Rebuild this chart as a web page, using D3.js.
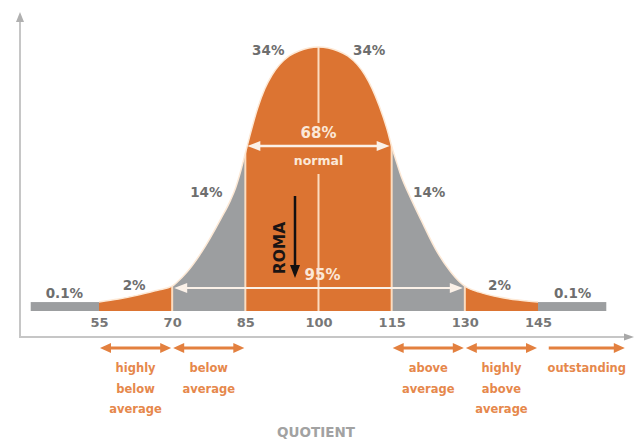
<!DOCTYPE html>
<html><head><meta charset="utf-8">
<script src="https://cdn.jsdelivr.net/npm/d3@7/dist/d3.min.js"></script>
<style>body{margin:0;background:#fff}svg{display:block}</style>
</head><body><svg id="c" width="634" height="442"></svg>
<script>
// ---------- data ----------
const curveIQ = [55,59,63,67,70,71,73,76,80,82,83,84,85,86,87.5,89,90.5,92,94,96,98,100,
                 102,104,106,108,109.5,111,112.5,114,115,116,117,118.5,121,124.5,127,129,130,133,137,141,145];
const curveDensity = [0.09,0.12,0.16,0.21,0.25,0.29,0.39,0.59,0.93,1.12,1.24,1.40,1.59,1.78,2.04,2.24,2.38,2.48,2.57,2.62,2.65,2.66,
                      2.65,2.62,2.57,2.48,2.38,2.24,2.06,1.84,1.66,1.50,1.35,1.18,0.92,0.58,0.40,0.29,0.25,0.19,0.14,0.11,0.09];
const bandEdges = [55,70,85,115,130,145];
const tailRanges = [[41,55],[145,159]];
const tailDensity = 0.09;
const tickValues = [55,70,85,100,115,130,145];
const bandPct = ["0.1%","2%","14%","34%","34%","14%","2%","0.1%"];
const innerPct = ["68%","95%"];
const innerLabel = "normal";
const markerLabel = "ROMA";
const axisTitle = "QUOTIENT";
const categoryNames = [["highly","below","average"],["below","average"],["above","average"],["highly","above","average"],["outstanding"]];
const categoryRanges = [[55,70],[70,85],[115,130],[130,145],[147,163]];

// ---------- layout (data coordinates for annotations) ----------
const pctAnchorIQ = [47.9,62.2,77,89.7,110.4,122.7,137.1,152.1];
const pctAnchorDensity = [0.13,0.21,1.15,2.58,2.58,1.15,0.21,0.13];

const ORANGE = "#dc7432", GRAY = "#9c9ea0", CREAM = "#fbdcc0", WHITE = "#fbf1e8";
const CAT = "#e3803f", CATTXT = "#e6884c";

const svg = d3.select("#c");
const x = d3.scaleLinear().domain([55,145]).range([99,538]);
const y = d3.scaleLinear().domain([0,2.66]).range([311,47]);
const pts = curveIQ.map((v,i)=>[v,curveDensity[i]]);

function head(g, tx, ty, ang, len, hw, col){
  const c=Math.cos(ang), s=Math.sin(ang);
  const bx=tx-c*len, by=ty-s*len;
  g.append("path").attr("d",`M${tx},${ty}L${bx-s*hw},${by+c*hw}L${bx+s*hw},${by-c*hw}Z`).attr("fill",col);
}
function arrow(g, x1,y1,x2,y2, o){
  const ang=Math.atan2(y2-y1,x2-x1), len=o.len, c=Math.cos(ang), s=Math.sin(ang);
  const sx = o.start? x1+c*len*0.8 : x1, sy = o.start? y1+s*len*0.8 : y1;
  const ex = o.end? x2-c*len*0.8 : x2, ey = o.end? y2-s*len*0.8 : y2;
  g.append("line").attr("x1",sx).attr("y1",sy).attr("x2",ex).attr("y2",ey)
    .attr("stroke",o.col).attr("stroke-width",o.w);
  if(o.end) head(g,x2,y2,ang,len,o.hw,o.col);
  if(o.start) head(g,x1,y1,ang+Math.PI,len,o.hw,o.col);
}

// axes frame
const ax = svg.append("g");
ax.append("line").attr("x1",20).attr("y1",337).attr("x2",20).attr("y2",20).attr("stroke","#c6c6c6").attr("stroke-width",2);
head(ax,20,12,-Math.PI/2,10,4,"#b0b0b0");
ax.append("line").attr("x1",19).attr("y1",337).attr("x2",626).attr("y2",337).attr("stroke","#c6c6c6").attr("stroke-width",2);
head(ax,634,337,0,10,3.5,"#a8a8a8");

// flat tails
svg.append("g").selectAll("rect").data(tailRanges).join("rect")
  .attr("x",d=>x(d[0])).attr("width",d=>x(d[1])-x(d[0]))
  .attr("y",y(tailDensity)).attr("height",y(0)-y(tailDensity)).attr("fill",GRAY);

// bell area with bands
const area = d3.area().x(d=>x(d[0])).y0(y(0)).y1(d=>y(d[1])).curve(d3.curveMonotoneX);
const line = d3.line().x(d=>x(d[0])).y(d=>y(d[1])).curve(d3.curveMonotoneX);
svg.append("clipPath").attr("id","bell").append("path").attr("d",area(pts));
const bell = svg.append("g").attr("clip-path","url(#bell)");
bell.selectAll("rect").data(d3.pairs(bandEdges)).join("rect")
  .attr("x",d=>x(d[0])).attr("width",d=>x(d[1])-x(d[0]))
  .attr("y",0).attr("height",y(0)).attr("fill",(d,i)=>i%2===0?ORANGE:GRAY);
bell.selectAll("line.div").data(bandEdges.slice(1,-1)).join("line").attr("class","div")
  .attr("x1",d=>x(d)).attr("x2",d=>x(d)).attr("y1",0).attr("y2",y(0))
  .attr("stroke",CREAM).attr("stroke-width",2);
// center line, split around the 68% / normal labels
bell.append("line").attr("x1",x(100)).attr("x2",x(100)).attr("y1",0).attr("y2",123).attr("stroke",CREAM).attr("stroke-width",2);
bell.append("line").attr("x1",x(100)).attr("x2",x(100)).attr("y1",174).attr("y2",y(0)).attr("stroke",CREAM).attr("stroke-width",2);
svg.append("path").attr("d",line(pts)).attr("fill","none").attr("stroke","#fde9d6").attr("stroke-width",1.5);

// inner arrows
arrow(svg, x(85)+2,146, x(115)-2,146, {len:13,hw:5,w:2.5,col:WHITE,start:true,end:true});
arrow(svg, x(70)+2,288, x(130)-2,288, {len:13,hw:5,w:2,col:WHITE,start:true,end:true});
svg.append("text").attr("x",x(100)).attr("y",138).attr("text-anchor","middle")
  .attr("font-family","DejaVu Sans").attr("font-weight","bold").attr("font-size",15).attr("fill","#fbe8d8").text(innerPct[0]);
svg.append("text").attr("x",x(100)).attr("y",165).attr("text-anchor","middle")
  .attr("font-family","DejaVu Sans").attr("font-weight","bold").attr("font-size",12.5).attr("fill","#fbe8d8").text(innerLabel);
svg.append("text").attr("x",x(100)+4).attr("y",280).attr("text-anchor","middle")
  .attr("font-family","DejaVu Sans").attr("font-weight","bold").attr("font-size",15).attr("fill","#fbe8d8").text(innerPct[1]);

// ROMA marker
arrow(svg, 295,196, 295,278, {len:13,hw:5,w:2.5,col:"#141010",start:false,end:true});
svg.append("text").attr("transform","translate(285,248) rotate(-90)").attr("text-anchor","middle")
  .attr("font-family","DejaVu Sans").attr("font-weight","bold").attr("font-size",15.5).attr("fill","#1a1414").text(markerLabel);

// percent labels
svg.append("g").selectAll("text").data(bandPct).join("text")
  .attr("x",(d,i)=>x(pctAnchorIQ[i])).attr("y",(d,i)=>y(pctAnchorDensity[i]))
  .attr("text-anchor","middle").attr("font-family","DejaVu Sans").attr("font-weight","bold")
  .attr("font-size",13.5).attr("fill","#6e6e6e").text(d=>d);

// tick labels
const xa = svg.append("g").attr("transform",`translate(0,${y(0)})`)
  .call(d3.axisBottom(x).tickValues(tickValues).tickSize(0).tickPadding(7).tickFormat(d3.format("d")));
xa.select(".domain").remove();
xa.selectAll("text").attr("font-family","DejaVu Sans").attr("font-weight","bold").attr("font-size",13).attr("fill","#777");

// category arrows and labels
const cg = svg.append("g");
categoryRanges.forEach((r,i)=>{
  const last = i===categoryRanges.length-1;
  arrow(cg, x(r[0])+1,348, x(r[1])-1,348, {len:11,hw:5,w:3,col:CAT,start:!last,end:true});
  const cx = x((r[0]+r[1])/2);
  categoryNames[i].forEach((t,j)=>{
    cg.append("text").attr("x",cx).attr("y",372+j*20.5).attr("text-anchor","middle")
      .attr("font-family","DejaVu Sans").attr("font-weight","bold").attr("font-size",11.5)
      .attr("fill",CATTXT).text(t);
  });
});

svg.append("text").attr("x",316).attr("y",437).attr("text-anchor","middle")
  .attr("font-family","DejaVu Sans").attr("font-weight","bold").attr("font-size",13.5).attr("fill","#a2a2a2").text(axisTitle);
</script></body></html>
